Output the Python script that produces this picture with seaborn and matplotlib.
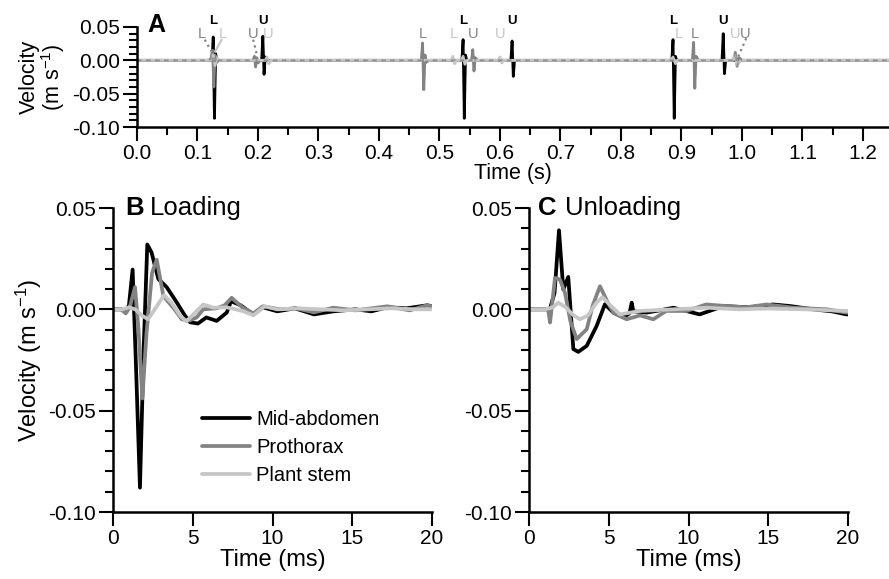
import matplotlib
matplotlib.use("Agg")
import matplotlib.pyplot as plt
import numpy as np
import pandas as pd
import seaborn as sns
from matplotlib.ticker import MultipleLocator, FormatStrFormatter

# ---- data --------------------------------------------------------------
sites = ["Mid-abdomen", "Prothorax", "Plant stem"]
colors = {"Mid-abdomen": "#000000", "Prothorax": "#838383", "Plant stem": "#c6c6c6"}

# panel A: whole recording (s, m/s)
a_abd_t = [0, 0.124, 0.126, 0.128, 0.130, 0.132, 0.206, 0.208, 0.210, 0.212, 0.214,
           0.537, 0.539, 0.541, 0.543, 0.545, 0.618, 0.620, 0.622, 0.624,
           0.884, 0.886, 0.888, 0.890, 0.892, 0.967, 0.969, 0.971, 0.973, 1.25]
a_abd_v = [0, 0, 0.035, -0.087, 0.010, 0, 0, 0.036, -0.021, 0.005, 0,
           0, 0.031, -0.087, 0.008, 0, 0, 0.029, -0.024, 0,
           0, 0.031, -0.087, 0.006, 0, 0, 0.040, -0.020, 0, 0]
a_pro_t = [0, 0.118, 0.122, 0.125, 0.127, 0.129, 0.131, 0.135, 0.192, 0.194, 0.196, 0.198,
           0.200, 0.204, 0.470, 0.472, 0.474, 0.476, 0.478, 0.482, 0.553, 0.555, 0.557,
           0.559, 0.563, 0.918, 0.920, 0.922, 0.924, 0.928, 0.986, 0.989, 0.992, 0.995,
           1.000, 1.25]
a_pro_v = [0, 0, 0.002, 0.015, -0.040, 0.008, -0.004, 0, 0, 0.006, -0.010, 0.004,
           -0.004, 0, 0, 0.026, -0.044, 0.008, -0.003, 0, 0, 0.016, -0.016,
           0.004, 0, 0, 0.027, -0.042, 0.006, 0, 0, 0.012, -0.009, 0.004,
           0, 0]
a_stem_t = [0, 0.122, 0.126, 0.129, 0.132, 0.136, 0.212, 0.215, 0.218, 0.222,
            0.519, 0.522, 0.525, 0.528, 0.536, 0.539, 0.542, 0.546, 0.597, 0.600,
            0.603, 0.606, 0.882, 0.886, 0.890, 0.894, 0.984, 0.988, 0.992, 0.998, 1.25]
a_stem_v = [0, 0, 0.008, -0.008, 0.004, 0, 0, 0.005, -0.005, 0,
            0, 0.006, -0.005, 0, 0, 0.006, -0.006, 0, 0, 0.005,
            -0.004, 0, 0, 0.005, -0.005, 0, 0, 0.008, -0.008, 0, 0]

# event markers above panel A: (text, time, row, site)
a_marks = [("L", 0.126, "top", "Mid-abdomen"), ("L", 0.107, "low", "Prothorax"),
           ("L", 0.142, "low", "Plant stem"), ("U", 0.208, "top", "Mid-abdomen"),
           ("U", 0.192, "low", "Prothorax"), ("U", 0.217, "low", "Plant stem"),
           ("L", 0.473, "low", "Prothorax"), ("L", 0.523, "low", "Plant stem"),
           ("L", 0.539, "top", "Mid-abdomen"), ("U", 0.556, "low", "Prothorax"),
           ("U", 0.600, "low", "Plant stem"), ("U", 0.620, "top", "Mid-abdomen"),
           ("L", 0.886, "top", "Mid-abdomen"), ("L", 0.896, "low", "Plant stem"),
           ("L", 0.922, "low", "Prothorax"), ("U", 0.969, "top", "Mid-abdomen"),
           ("U", 0.988, "low", "Plant stem"), ("U", 1.005, "low", "Prothorax")]
# leader lines: (t0, v0, t1, v1, site, style)
a_leaders = [(0.112, 0.031, 0.124, 0.012, "Prothorax", ":"),
             (0.140, 0.031, 0.129, 0.013, "Plant stem", "-"),
             (0.192, 0.031, 0.198, 0.009, "Prothorax", ":"),
             (1.007, 0.033, 0.992, 0.002, "Prothorax", ":")]

# panel B: loading (ms, m/s)
b_abd_t = [0, 0.5, 0.8, 1.0, 1.23, 1.45, 1.69, 1.92, 2.15, 2.42, 2.84, 3.36, 3.99, 4.5,
           4.83, 5.33, 5.85, 6.5, 7.13, 7.4, 8.0, 8.8, 9.4, 10.3, 11.4, 12.6, 13.8,
           15.2, 16.2, 17.2, 18.4, 19.7, 20]
b_abd_v = [0, 0, -0.001, 0.002, 0.0196, -0.03, -0.088, -0.02, 0.032, 0.028, 0.015,
           0.011, 0.0035, -0.003, -0.0064, -0.007, -0.004, -0.0057, -0.0016, 0.004,
           0.002, -0.0025, 0.001, -0.001, 0.0005, -0.0025, -0.001, 0, -0.001, 0.001,
           0.0005, 0.002, 0.0015]
b_pro_t = [0, 0.5, 0.8, 1.05, 1.38, 1.6, 1.84, 2.1, 2.45, 2.74, 3.16, 3.78, 4.31, 4.8,
           5.24, 5.66, 6.5, 7.0, 7.44, 8.1, 8.8, 9.4, 10.5, 11.5, 12.6, 13.8, 15.2,
           16.2, 17.2, 18.6, 19.7, 20]
b_pro_v = [0, 0, -0.002, 0.001, 0.011, -0.01, -0.044, -0.012, 0.018, 0.0245, 0.0065,
           0.0008, -0.0049, -0.0055, -0.004, 0, 0.0005, 0.002, 0.0057, 0.001, -0.002,
           0.0015, 0, 0.0005, -0.0015, 0.0008, -0.0005, 0.0005, 0.0015, -0.0005, 0.002,
           0.0015]
b_stem_t = [0, 0.6, 1.0, 1.4, 1.8, 2.2, 2.7, 3.2, 3.7, 4.2, 4.6, 5.1, 5.66, 6.3, 7.1,
            7.7, 8.2, 8.8, 9.5, 10.3, 11.7, 13.0, 14.5, 16.0, 17.5, 19.0, 20]
b_stem_v = [0, 0, 0.001, 0, -0.003, -0.0049, 0.001, 0.007, 0.003, -0.003, -0.006,
            -0.002, 0.0024, 0.0008, 0.001, 0, -0.001, -0.003, 0.0015, 0, 0.0005, 0,
            -0.0005, 0, 0.0005, 0, 0]

# panel C: unloading (ms, m/s)
c_abd_t = [0, 0.8, 1.3, 1.6, 1.88, 2.15, 2.46, 2.78, 3.09, 3.62, 4.24, 4.76, 5.29, 5.91,
           6.3, 6.44, 6.54, 7.38, 8.2, 9.05, 10.7, 12.2, 13.8, 15.3, 16.4, 17.8, 19.0,
           19.9, 20]
c_abd_v = [0, 0, 0, 0.008, 0.039, 0.0098, 0.016, -0.0196, -0.021, -0.018, -0.0082,
           0.0025, -0.0016, -0.004, -0.002, 0.0033, -0.001, -0.0016, -0.0005, 0.0008,
           -0.0025, 0.0016, 0.001, 0.0024, 0.0016, 0, -0.001, -0.0025, -0.0025]
c_pro_t = [0, 0.8, 1.2, 1.32, 1.63, 1.94, 2.26, 2.6, 2.99, 3.62, 4.0, 4.45, 4.9, 5.29,
           6.12, 6.96, 7.8, 8.6, 9.9, 11.1, 12.4, 13.6, 14.9, 16.6, 18.7, 19.9, 20]
c_pro_v = [0, 0, 0, -0.0065, 0.0155, 0.0147, 0.008, -0.006, -0.0147, -0.0098, 0.002,
           0.0114, 0.004, -0.0016, -0.0049, -0.003, -0.0049, -0.0008, -0.0008, 0.0024,
           0.0016, 0.001, 0.0024, 0.0008, 0, -0.0016, -0.0016]
c_stem_t = [0, 1.0, 1.5, 1.84, 2.3, 2.8, 3.2, 3.7, 4.2, 4.6, 5.1, 5.7, 6.96, 9.05,
            11.1, 13.2, 15.0, 17.3, 19.9, 20]
c_stem_v = [0, 0, 0.001, 0.0033, 0.001, -0.003, -0.0049, -0.003, 0.003, 0.006, 0.002,
            -0.0025, -0.0008, 0, 0.0008, 0, 0.0004, 0, -0.0008, -0.0008]


def long_frame(series):
    rows = []
    for site, (t, v) in zip(sites, series):
        rows.append(pd.DataFrame({"time": t, "velocity": v, "site": site}))
    return pd.concat(rows, ignore_index=True)


dfA = long_frame([(a_abd_t, a_abd_v), (a_pro_t, a_pro_v), (a_stem_t, a_stem_v)])
dfB = long_frame([(b_abd_t, b_abd_v), (b_pro_t, b_pro_v), (b_stem_t, b_stem_v)])
dfC = long_frame([(c_abd_t, c_abd_v), (c_pro_t, c_pro_v), (c_stem_t, c_stem_v)])

# ---- style -------------------------------------------------------------
sns.set_theme(style="ticks")
plt.rcParams["font.family"] = ["Liberation Sans", "DejaVu Sans"]
plt.rcParams["mathtext.default"] = "regular"
plt.rcParams["axes.unicode_minus"] = False
for key in ["text.color", "axes.labelcolor", "xtick.color", "ytick.color",
            "axes.edgecolor"]:
    plt.rcParams[key] = "black"

fig = plt.figure(figsize=(8.89, 5.79), dpi=100)
axA = fig.add_axes([137 / 889, 452 / 579, 752 / 889, 100 / 579])
axB = fig.add_axes([113 / 889, 67 / 579, 319 / 889, 304 / 579])
axC = fig.add_axes([529 / 889, 67 / 579, 319 / 889, 304 / 579])


def style_axis(ax, fs):
    sns.despine(ax=ax)
    for side in ["left", "bottom"]:
        ax.spines[side].set_linewidth(1.8)
        ax.spines[side].set_color("black")
    ax.tick_params(which="major", length=10, width=1.5, direction="out",
                   labelsize=fs, pad=2, color="black", labelcolor="black")
    ax.tick_params(which="minor", length=5.5, width=1.5, direction="out", color="black")
    ax.yaxis.set_major_locator(MultipleLocator(0.05))
    ax.yaxis.set_minor_locator(MultipleLocator(0.01))
    ax.yaxis.set_major_formatter(FormatStrFormatter("%.2f"))
    ax.set_ylim(-0.10, 0.05)


# ---- panel A -----------------------------------------------------------
sns.lineplot(data=dfA, x="time", y="velocity", hue="site", hue_order=sites,
             palette=colors, estimator=None, sort=False, linewidth=2.0,
             legend=False, ax=axA)
pro = dfA[dfA["site"] == "Prothorax"]
axA.plot(pro["time"], pro["velocity"], color=colors["Prothorax"], lw=1.3,
         ls=(0, (2.5, 2.5)), alpha=0.8)
style_axis(axA, 15)
axA.set_xlim(0, 1.243)
axA.xaxis.set_major_locator(MultipleLocator(0.1))
axA.xaxis.set_minor_locator(MultipleLocator(0.05))
axA.xaxis.set_major_formatter(FormatStrFormatter("%.1f"))
axA.set_xlabel("Time (s)", fontsize=15.5, labelpad=0)
axA.set_ylabel("Velocity\n(m s$^{-1}$)", fontsize=15.5, linespacing=0.95, labelpad=4)
axA.text(0.0133, 0.95, "A", transform=axA.transAxes, fontsize=18, fontweight="bold",
         va="baseline", ha="left")
for txt, t, row, site in a_marks:
    if row == "top":
        axA.text(t, 0.0585, txt, color=colors[site], fontsize=9.5, fontweight="bold",
                 ha="center", va="center", clip_on=False)
    else:
        axA.text(t, 0.0395, txt, color=colors[site], fontsize=10.5,
                 ha="center", va="center", clip_on=False)
for t0, v0, t1, v1, site, ls in a_leaders:
    axA.plot([t0, t1], [v0, v1], color=colors[site], ls=ls, lw=1.6, clip_on=False)

# ---- panels B and C ----------------------------------------------------
for ax, df, letter, word, lx, wx in [(axB, dfB, "B", "Loading", 0.038, 0.116),
                                     (axC, dfC, "C", "Unloading", 0.028, 0.113)]:
    sns.lineplot(data=df, x="time", y="velocity", hue="site", hue_order=sites,
                 palette=colors, estimator=None, sort=False, linewidth=2.7,
                 legend=(ax is axB), ax=ax)
    style_axis(ax, 15)
    ax.set_xlim(0, 20)
    ax.xaxis.set_major_locator(MultipleLocator(5))
    ax.xaxis.set_major_formatter(FormatStrFormatter("%d"))
    ax.set_xlabel("Time (ms)", fontsize=17, labelpad=1)
    ax.text(lx, 0.977, letter, transform=ax.transAxes, fontsize=18.5,
            fontweight="bold", va="baseline", ha="left")
    ax.text(wx, 0.977, word, transform=ax.transAxes, fontsize=18.5,
            va="baseline", ha="left")

axB.set_ylabel("Velocity (m s$^{-1}$)", fontsize=17, labelpad=3)
axC.set_ylabel("")
handles, labels = axB.get_legend_handles_labels()
axB.legend(handles, labels, loc="upper left", bbox_to_anchor=(0.279, 0.337),
           frameon=False, fontsize=14.5, handlelength=2.4, handletextpad=0.3,
           labelspacing=0.47, borderpad=0, borderaxespad=0)

fig.savefig("out.png", dpi=100)
